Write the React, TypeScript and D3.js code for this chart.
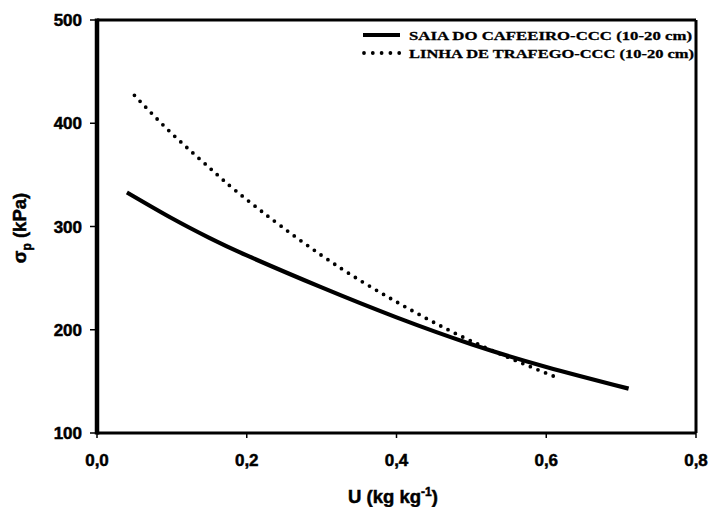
import React from "react";
import * as d3 from "d3";

const uSaia = [0.04, 0.1, 0.15, 0.2, 0.3, 0.4, 0.5, 0.6, 0.71];
const sigmaSaia = [333, 308, 289, 272, 241, 212, 186, 164, 143];
const uTrafego = [0.05, 0.1, 0.15, 0.2, 0.3, 0.4, 0.5, 0.61];
const sigmaTrafego = [427, 390, 357, 326, 272, 227, 189, 155];
const xTicks = [0, 0.2, 0.4, 0.6, 0.8];
const yTicks = [100, 200, 300, 400, 500];
const legendLabels = ["SAIA DO CAFEEIRO-CCC (10-20 cm)", "LINHA DE TRAFEGO-CCC (10-20 cm)"];

const W = 710, H = 507;
const L = 97, R = 696, T = 20, B = 433;

export default function App() {
  const x = d3.scaleLinear().domain([0, 0.8]).range([L, R]);
  const y = d3.scaleLinear().domain([100, 500]).range([B, T]);
  const line = d3
    .line<[number, number]>()
    .x((d) => x(d[0]))
    .y((d) => y(d[1]))
    .curve(d3.curveNatural);
  const saia = line(uSaia.map((u, i) => [u, sigmaSaia[i]]) as [number, number][]) || "";
  const traf = line(uTrafego.map((u, i) => [u, sigmaTrafego[i]]) as [number, number][]) || "";
  const bold = "'Liberation Sans', Arial, sans-serif";
  const serif = "'Liberation Serif', 'Times New Roman', serif";
  return (
    <svg width={W} height={H} style={{ position: "absolute", left: 0, top: 0, background: "#fff" }}>
      <rect x={0} y={0} width={W} height={H} fill="#fff" />
      {/* curves */}
      <path d={saia} fill="none" stroke="#000" strokeWidth={4.2} strokeLinecap="butt" />
      <path d={traf} fill="none" stroke="#000" strokeWidth={3.8} strokeDasharray="0 8.2" strokeLinecap="round" />
      {/* frame */}
      <line x1={L} y1={T} x2={R} y2={T} stroke="#000" strokeWidth={3} />
      <line x1={R} y1={T} x2={R} y2={B} stroke="#000" strokeWidth={3} />
      <line x1={L} y1={B} x2={R} y2={B} stroke="#000" strokeWidth={3} />
      <line x1={L} y1={T - 1.5} x2={L} y2={B + 1.5} stroke="#000" strokeWidth={4.5} />
      {/* y ticks */}
      {yTicks.map((t) => (
        <g key={"y" + t}>
          <line x1={L - 7} x2={L} y1={y(t)} y2={y(t)} stroke="#000" strokeWidth={1.5} />
          <text x={82} y={y(t) + 6} textAnchor="end" fontFamily={bold} fontWeight="900" fontSize={17} stroke="#000" strokeWidth={0.5}>
            {t}
          </text>
        </g>
      ))}
      {/* x ticks */}
      {xTicks.map((t) => (
        <g key={"x" + t}>
          <line x1={x(t)} x2={x(t)} y1={B} y2={B + 5} stroke="#000" strokeWidth={1.5} />
          <text x={x(t)} y={466} textAnchor="middle" fontFamily={bold} fontWeight="900" fontSize={17} stroke="#000" strokeWidth={0.5}>
            {t.toFixed(1).replace(".", ",")}
          </text>
        </g>
      ))}
      {/* axis titles */}
      <text x={393} y={503} textAnchor="middle" fontFamily={bold} fontWeight="900" fontSize={18.5} stroke="#000" strokeWidth={0.5}>
        U (kg kg
        <tspan dy={-7} fontSize={12}>-1</tspan>
        <tspan dy={7}>)</tspan>
      </text>
      <text
        transform={`translate(26,228) rotate(-90)`}
        textAnchor="middle"
        fontFamily={bold}
        fontWeight="900"
        fontSize={18.5}
        stroke="#000"
        strokeWidth={0.5}
      >
        σ<tspan dy={5} fontSize={12}>p</tspan>
        <tspan dy={-5}> (kPa)</tspan>
      </text>
      {/* legend */}
      <line x1={363} x2={400} y1={35} y2={35} stroke="#000" strokeWidth={3.8} />
      <line x1={364} x2={400} y1={53} y2={53} stroke="#000" strokeWidth={3.8} strokeDasharray="0 8.8" strokeLinecap="round" />
      <text x={409} y={40} fontFamily={serif} fontWeight="bold" fontSize={13.5} textLength={283} lengthAdjust="spacingAndGlyphs" stroke="#000" strokeWidth={0.3}>
        {legendLabels[0]}
      </text>
      <text x={409} y={58} fontFamily={serif} fontWeight="bold" fontSize={13.5} textLength={285} lengthAdjust="spacingAndGlyphs" stroke="#000" strokeWidth={0.3}>
        {legendLabels[1]}
      </text>
    </svg>
  );
}
